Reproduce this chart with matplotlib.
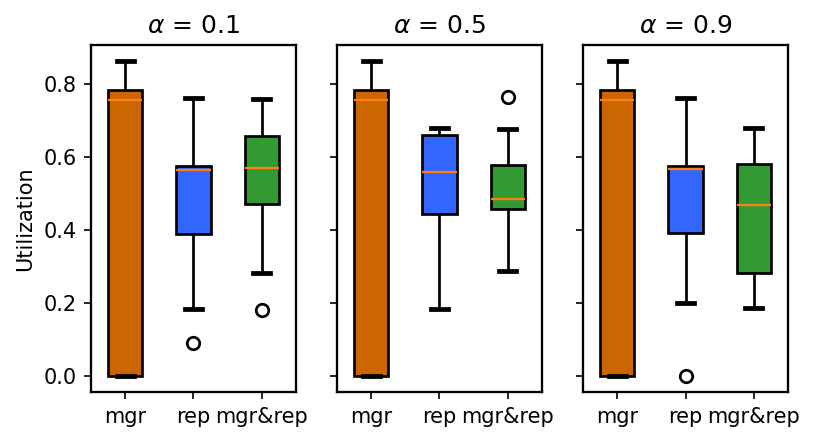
import matplotlib
matplotlib.use("Agg")
import matplotlib.pyplot as plt

# box statistics, one list per panel (alpha)
alphas = [0.1, 0.5, 0.9]
labels = ["mgr", "rep", "mgr&rep"]
colors = ["#cc6600", "#3366ff", "#339933"]

# order: mgr, rep, mgr&rep
whislo = [[0.0, 0.183, 0.283], [0.0, 0.184, 0.287], [0.0, 0.199, 0.187]]
q1 = [[0.0, 0.389, 0.472], [0.0, 0.443, 0.458], [0.0, 0.393, 0.282]]
med = [[0.756, 0.565, 0.570], [0.756, 0.560, 0.485], [0.756, 0.567, 0.468]]
q3 = [[0.784, 0.576, 0.658], [0.784, 0.661, 0.578], [0.784, 0.576, 0.581]]
whishi = [[0.863, 0.762, 0.759], [0.863, 0.679, 0.677], [0.863, 0.760, 0.679]]
fliers = [[[], [0.092], [0.182]], [[], [], [0.765]], [[], [0.0], []]]

plt.rcParams["axes.linewidth"] = 1.1

fig, axes = plt.subplots(1, 3, sharey=True, figsize=(816 / 150, 443 / 150), dpi=150)
fig.subplots_adjust(left=0.1115, right=0.9657, top=0.8984, bottom=0.1151, wspace=0.2)

for i, ax in enumerate(axes):
    stats = []
    for j in range(3):
        stats.append(dict(label=labels[j], whislo=whislo[i][j], q1=q1[i][j],
                          med=med[i][j], q3=q3[i][j], whishi=whishi[i][j],
                          fliers=fliers[i][j]))
    bp = ax.bxp(stats, widths=0.5, patch_artist=True,
                boxprops=dict(linewidth=1.3),
                whiskerprops=dict(linewidth=1.3),
                capprops=dict(linewidth=2.3),
                flierprops=dict(markeredgewidth=1.3),
                medianprops=dict(color="#ff7f0e", linewidth=1.1))
    for patch, c in zip(bp["boxes"], colors):
        patch.set_facecolor(c)
    ax.set_title(r"$\alpha$ = %.1f" % alphas[i])

axes[0].set_ylabel("Utilization")
axes[0].set_yticks([0.0, 0.2, 0.4, 0.6, 0.8])

fig.savefig("out.png", dpi=150)
